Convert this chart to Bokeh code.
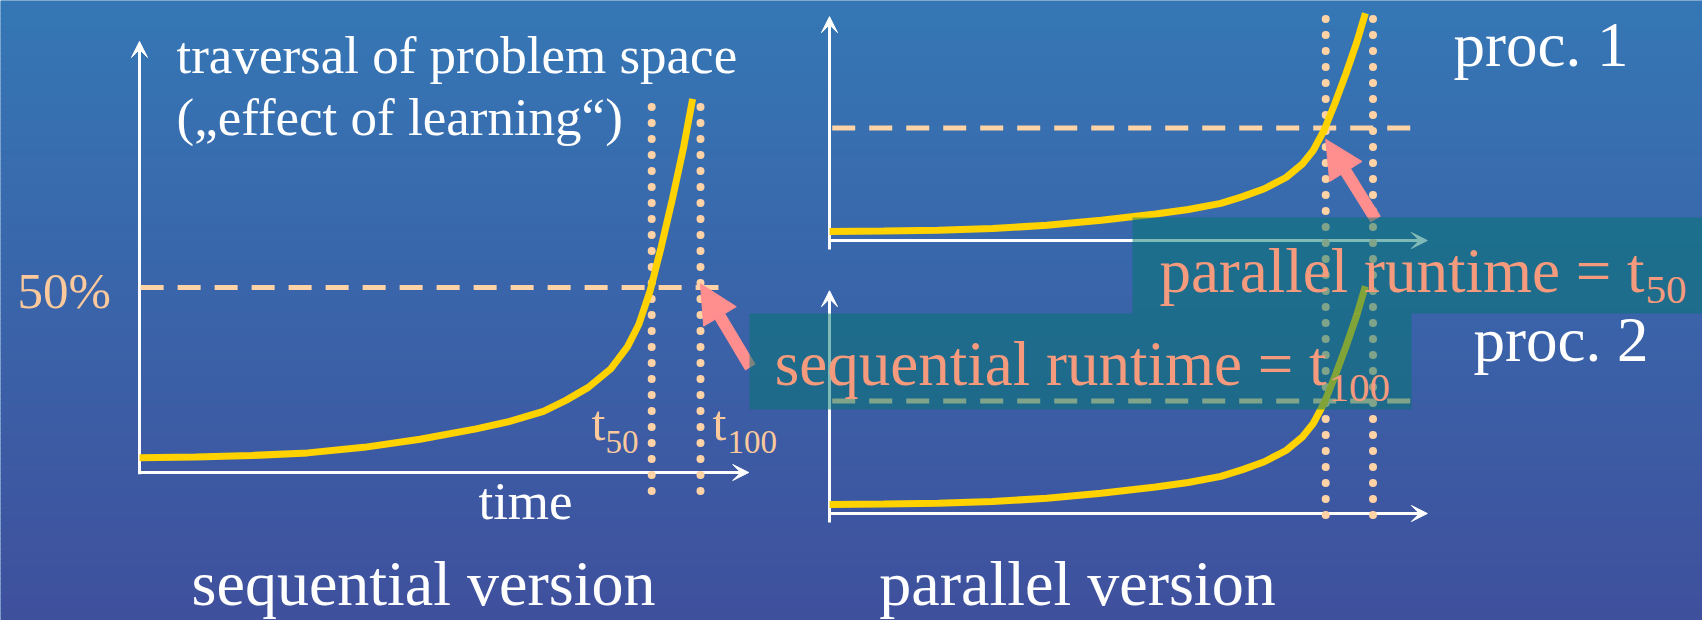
import numpy as np
from bokeh.plotting import figure
from bokeh.models import Range1d, Arrow, VeeHead, NormalHead
from bokeh.core.properties import value
from bokeh.embed import file_html
from bokeh.resources import INLINE

# Learning curve: share of the problem space traversed (%) over time (t100 = 100)
curve_time = [0, 10, 20, 30, 40, 50, 60, 66, 72, 76, 80, 84, 87, 89, 91, 93, 95, 97, 98.6]
curve_progress = [4.0, 4.2, 4.6, 5.3, 6.8, 9.0, 11.8, 13.8, 16.5, 19.5, 23.0, 28.0,
                  34.0, 40.0, 49.0, 61.0, 74.0, 88.0, 101.0]
t50 = 91.3
t100 = 100.0
half = 50.0

panel_titles = ["sequential version", "parallel version"]
proc_labels = ["proc. 1", "proc. 2"]
y_caption = ["traversal of problem space", "(\u201eeffect of learning\u201c)"]
x_caption = "time"
runtime_seq = ("sequential runtime = t", "100")
runtime_par = ("parallel runtime = t", "50")

W, H = 1702, 620
FONT = value("Liberation Serif")

WHITE = "#ffffff"
YELLOW = "#ffd200"
PEACH_LINE = "#ffd3a5"
PEACH_TEXT = "#fbc99b"
PINK = "#ff8e8e"
SALMON = "#f59a7c"
BOX = "#027570"

# Panel layout: pixel origin and pixels per unit on each axis
PANELS = {
    "seq": dict(x0=139, y0=472, sx=5.61, sy=3.70),
    "p1": dict(x0=829, y0=240, sx=5.435, sy=2.25),
    "p2": dict(x0=829, y0=513, sx=5.435, sy=2.25),
}

p = figure(width=W, height=H, x_range=Range1d(0, W), y_range=Range1d(H, 0),
           min_border=0, toolbar_location=None, output_backend="svg",
           x_axis_type=None, y_axis_type=None, outline_line_color=None)
p.background_fill_color = "#3577b5"
p.border_fill_color = "#3577b5"

# per-panel data ranges mapped onto the full canvas
for name, g in PANELS.items():
    p.extra_x_ranges[name] = Range1d(-g["x0"] / g["sx"], (W - g["x0"]) / g["sx"])
    p.extra_y_ranges[name] = Range1d((g["y0"] - H) / g["sy"], g["y0"] / g["sy"])

# vertical background gradient
top_c = np.array([53, 119, 181])
bot_c = np.array([63, 80, 157])
n = 124
ys = np.linspace(0, H, n + 1)
cols = []
for i in range(n):
    f = (i + 0.5) / n
    c = top_c + (bot_c - top_c) * f
    cols.append("#%02x%02x%02x" % tuple(int(round(v)) for v in c))
p.quad(left=0, right=W, top=ys[:-1], bottom=ys[1:] + 1.0, fill_color=cols,
       line_color=None, level="image")


def rn(name):
    return dict(x_range_name=name, y_range_name=name)


def axis_arrow(name, xs, ys_, xe, ye):
    p.add_layout(Arrow(x_start=xs, y_start=ys_, x_end=xe, y_end=ye,
                       line_color=WHITE, line_width=3, level="underlay",
                       end=VeeHead(size=16, fill_color=WHITE, line_color=WHITE, line_width=1),
                       **rn(name)))


# axes
axis_arrow("seq", 0, -0.5, 0, 116.5)
axis_arrow("seq", 0, 0, 108.6, 0)
axis_arrow("p1", 0, -4, 0, 99.5)
axis_arrow("p1", 0, 0, 110, 0)
axis_arrow("p2", 0, -4, 0, 99.0)
axis_arrow("p2", 0, 0, 110, 0)

# 50 % guide lines
p.line([0.2, 103.2], [half, half], line_color=PEACH_LINE, line_width=5,
       line_dash="23 14", **rn("seq"))
for name in ("p1", "p2"):
    p.line([0.5, 107.5], [half, half], line_color=PEACH_LINE, line_width=5,
           line_dash="23 14", **rn(name))

# t50 / t100 markers
p.segment(x0=[t50, t100], y0=[-5, -5], x1=[t50, t100], y1=[100, 100],
          line_color=PEACH_LINE, line_width=8, line_cap="round",
          line_dash="0 16", **rn("seq"))
p.segment(x0=[t50, t100], y0=[-122, -122], x1=[t50, t100], y1=[100.5, 100.5],
          line_color=PEACH_LINE, line_width=8, line_cap="round",
          line_dash="0 16", **rn("p1"))

# learning curves
for name in ("seq", "p1", "p2"):
    p.line(curve_time, curve_progress, line_color=YELLOW, line_width=7, **rn(name))


def pointer(name, xs, ys_, xe, ye):
    p.add_layout(Arrow(x_start=xs, y_start=ys_, x_end=xe, y_end=ye,
                       line_color=PINK, line_width=12, level="guide",
                       end=NormalHead(size=38, fill_color=PINK, line_color=PINK, line_width=1),
                       **rn(name)))


pointer("seq", 108.9, 28.4, t100, 51)
pointer("p1", 100.5, 9.4, t50, 45)

# runtime boxes
p.quad(left=[749, 1132], right=[1411, W], top=[313, 217], bottom=[409, 313],
       fill_color=BOX, fill_alpha=0.5, line_color=None, level="annotation")

# the renderer places the alphabetic baseline this far (in em) below the anchor
BASELINE_SHIFT = 0.30


def label(x, y, txt, size, color, align="left"):
    p.text(x=[x], y=[y - BASELINE_SHIFT * size], text=[txt], text_font=FONT,
           text_font_size=f"{size}px", text_color=color, text_align=align,
           text_baseline="alphabetic", level="overlay")


label(176, 70, y_caption[0], 53, WHITE)
label(176, 132, y_caption[1], 53, WHITE)
label(17, 306, "50%", 51, PEACH_TEXT)
label(605, 437, "t", 50, PEACH_TEXT, "right")
label(605, 451, "50", 33, PEACH_TEXT)
label(726, 437, "t", 50, PEACH_TEXT, "right")
label(727, 451, "100", 33, PEACH_TEXT)
label(525, 516, x_caption, 53, WHITE, "center")
label(423, 602, panel_titles[0], 64, WHITE, "center")
label(1077, 602, panel_titles[1], 64, WHITE, "center")
label(1453, 63, proc_labels[0], 63, WHITE)
label(1473, 358, proc_labels[1], 63, WHITE)
label(1326, 382, runtime_seq[0], 63, SALMON, "right")
label(1328, 400, runtime_seq[1], 41, SALMON)
label(1644, 289, runtime_par[0], 63, SALMON, "right")
label(1645, 302, runtime_par[1], 41, SALMON)

open("out.html", "w").write(file_html(p, INLINE))
